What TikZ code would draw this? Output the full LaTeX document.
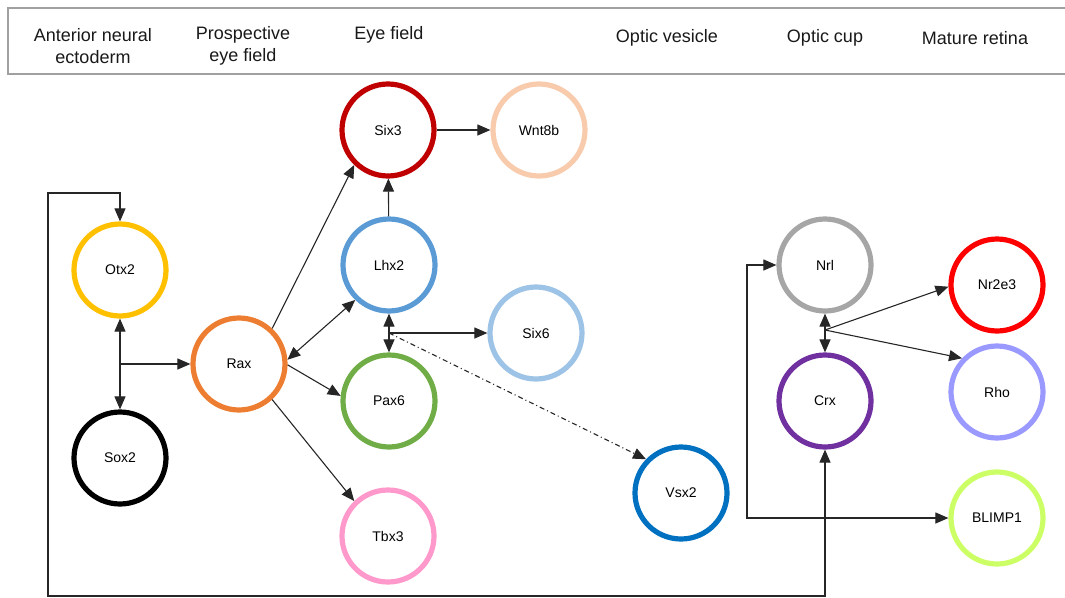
\documentclass[tikz,border=0pt]{standalone}
\usepackage{fontspec}
\setmainfont{Liberation Sans}
\usetikzlibrary{arrows.meta}
\definecolor{cOtx}{HTML}{FFC000}
\definecolor{cRax}{HTML}{ED7D31}
\definecolor{cSixt}{HTML}{C00000}
\definecolor{cWnt}{HTML}{F8CBAD}
\definecolor{cLhx}{HTML}{5B9BD5}
\definecolor{cSixs}{HTML}{9DC3E6}
\definecolor{cPax}{HTML}{70AD47}
\definecolor{cTbx}{HTML}{FF99CC}
\definecolor{cVsx}{HTML}{0070C0}
\definecolor{cNrl}{HTML}{A6A6A6}
\definecolor{cCrx}{HTML}{7030A0}
\definecolor{cNre}{HTML}{FF0000}
\definecolor{cRho}{HTML}{9999FF}
\definecolor{cBli}{HTML}{CCFF66}
\definecolor{cLine}{HTML}{262626}
\definecolor{cHead}{HTML}{A0A0A0}
\begin{document}
\begin{tikzpicture}[x=1pt,y=-1pt,
  gene/.style={circle,draw,line width=5.2pt,minimum size=92pt,inner sep=0pt,
    font=\fontsize{14}{16}\selectfont,fill=white},
  conn/.style={draw=cLine,line width=1.1pt,
    arrows={-},>={Triangle[length=13pt,width=11pt]}},
  dashdot/.style={dash pattern=on 5pt off 3pt on 1pt off 3pt},
  head/.style={font=\fontsize{18}{22}\selectfont,align=center,inner sep=0pt,text=black!90}]
\useasboundingbox (0,0) rectangle (1065,597);
% header
\draw[cHead,line width=1.3pt] (1065,8) -- (8,8) -- (8,74) -- (1065,74);
\node[head] (h1) at (93,46) {Anterior neural\\ectoderm};
\node[head] (h2) at (243,46) {Prospective\\eye field};
\node[head] (h3) at (389,35) {Eye field};
\node[head] (h4) at (667,38) {Optic vesicle};
\node[head] (h5) at (825,38) {Optic cup};
\node[head] (h6) at (975,38) {Mature retina};
% nodes
\node[gene,draw=cOtx] (Otx2) at (120,270) {Otx2};
\node[gene,draw=black] (Sox2) at (120,458) {Sox2};
\node[gene,draw=cRax] (Rax) at (239,364) {Rax};
\node[gene,draw=cSixt] (Six3) at (388,130) {Six3};
\node[gene,draw=cWnt] (Wnt8b) at (539,130) {Wnt8b};
\node[gene,draw=cLhx] (Lhx2) at (389,265) {Lhx2};
\node[gene,draw=cSixs] (Six6) at (536,333) {Six6};
\node[gene,draw=cPax] (Pax6) at (389,401) {Pax6};
\node[gene,draw=cTbx] (Tbx3) at (388,536) {Tbx3};
\node[gene,draw=cVsx] (Vsx2) at (681,493) {Vsx2};
\node[gene,draw=cNrl] (Nrl) at (825,265) {Nrl};
\node[gene,draw=cCrx] (Crx) at (825,401) {Crx};
\node[gene,draw=cNre] (Nr2e3) at (997,285) {Nr2e3};
\node[gene,draw=cRho] (Rho) at (997,392) {Rho};
\node[gene,draw=cBli] (BLIMP1) at (997,518) {BLIMP1};
% junctions and corners
\coordinate (j1) at (120,364);
\coordinate (j2) at (389,333);
\coordinate (j3) at (825,330);
\coordinate (l1) at (48,193);
\coordinate (l2) at (48,596);
\coordinate (c1) at (747,518);
% connectors
\draw[conn,<->] (Otx2) -- (Sox2);
\draw[conn,->] (j1) -- (Rax);
\draw[conn,<->] (Otx2.north) |- (l1) -- (l2) -| (Crx.south);
\draw[conn,->] (Rax.47) -- (Six3.226);
\draw[conn,<->] (Rax.5) -- (Lhx2.226);
\draw[conn,->] (Rax.-1) -- (Pax6.174);
\draw[conn,->] (Rax.-47) -- (Tbx3.134);
\draw[conn,->] (Lhx2) -- (Six3);
\draw[conn,->] (Six3) -- (Wnt8b);
\draw[conn,<->] (Lhx2) -- (Pax6);
\draw[conn,->] (j2) -- (Six6);
\draw[conn,dashdot,->] (j2) -- (Vsx2.136);
\draw[conn,<->] (Nrl) -- (Crx);
\draw[conn,->] (j3) -- (Nr2e3.182);
\draw[conn,->] (j3) -- (Rho.136);
\draw[conn,<->] (Nrl.west) -| (c1) -- (BLIMP1.west);
\end{tikzpicture}
\end{document}
